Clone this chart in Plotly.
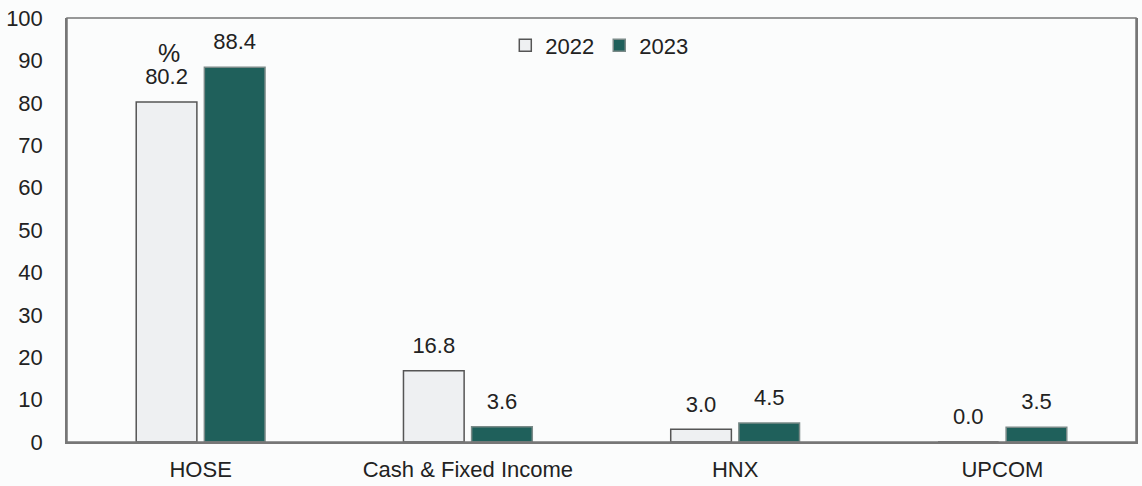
import plotly.graph_objects as go

categories = ["HOSE", "Cash & Fixed Income", "HNX", "UPCOM"]
vals_2022 = [80.2, 16.8, 3.0, 0.0]
vals_2023 = [88.4, 3.6, 4.5, 3.5]
series_names = ["2022", "2023"]
y_ticks = [0, 10, 20, 30, 40, 50, 60, 70, 80, 90, 100]

FONT = "Liberation Sans, Arial, sans-serif"
C22 = "#eef0f2"
C23 = "#1f605b"

fig = go.Figure()
for name, vals, fill, line in [(series_names[0], vals_2022, C22, "#555555"),
                               (series_names[1], vals_2023, C23, "#7a8a88")]:
    fig.add_trace(go.Bar(
        x=categories, y=vals, name=name, offsetgroup=name,
        marker=dict(color=fill, line=dict(color=line, width=1.5)),
    ))
for name, vals in [(series_names[0], vals_2022), (series_names[1], vals_2023)]:
    fig.add_trace(go.Scatter(
        x=categories, y=vals, mode="markers+text", offsetgroup=name,
        text=[f"{v:.1f}" for v in vals], textposition="top center",
        textfont=dict(family=FONT, size=22, color="#222222"),
        marker=dict(size=18, opacity=0), showlegend=False, hoverinfo="skip",
        cliponaxis=False,
    ))

fig.add_annotation(x=categories[0], y=vals_2022[0], xref="x", yref="y",
                   text="%", showarrow=False, xshift=-32, yshift=49,
                   font=dict(family=FONT, size=25, color="#222222"))

fig.update_layout(
    width=1142, height=486,
    margin=dict(l=67, r=4, t=18, b=44),
    paper_bgcolor="#fbfcfc", plot_bgcolor="#fbfcfc",
    barmode="group", scattermode="group", bargap=0.49, bargroupgap=0.11,
    font=dict(family=FONT, size=22, color="#222222"),
    legend=dict(orientation="h", x=0.41, y=0.985, xanchor="left", yanchor="top",
                bgcolor="rgba(0,0,0,0)", font=dict(size=22), itemwidth=30,
                tracegroupgap=0),
    xaxis=dict(showline=True, linecolor="#777777", linewidth=1.5, mirror=False,
               ticks="", ticklabelstandoff=7,
               tickfont=dict(size=22), showgrid=False),
    yaxis=dict(range=[0, 100], tickvals=y_ticks, showgrid=False, zeroline=False,
               showline=True, linecolor="#777777", linewidth=1.5, mirror=True,
               ticks="", ticklabelstandoff=18, tickfont=dict(size=22)),
)
fig.add_shape(type="rect", xref="paper", yref="paper", x0=0, x1=1, y0=0, y1=1,
              line=dict(color="#777777", width=1.5), layer="above")
fig.write_html("out.html", config={"displayModeBar": False},
               post_script="document.body.style.margin='0';")
